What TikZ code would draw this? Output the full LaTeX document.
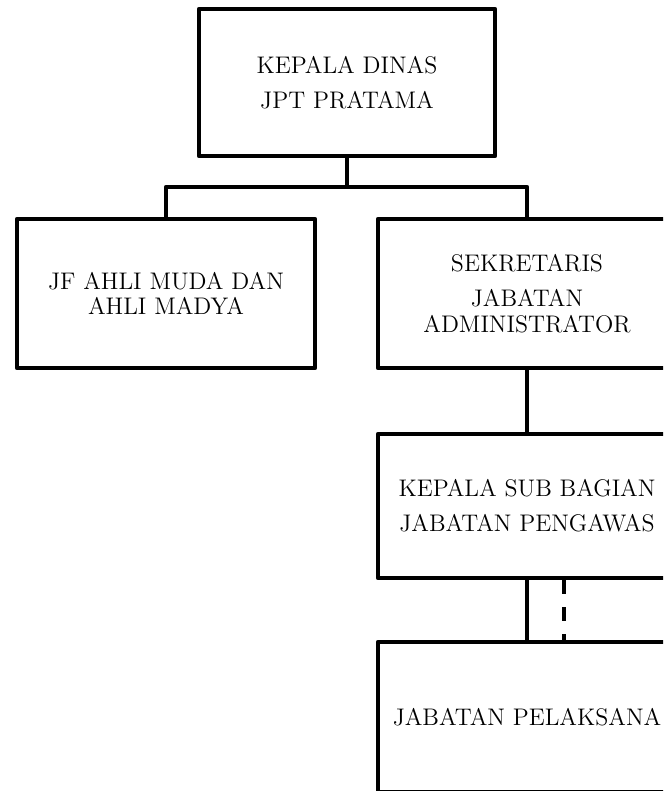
\documentclass[tikz,border=0pt]{standalone}
\usepackage{tikz}
\tikzset{
  kotak/.style={draw, line width=2.2pt, line join=round, align=center,
    minimum width=149pt, minimum height=74.5pt, inner sep=0pt,
    font=\fontsize{12}{12.7}\selectfont},
  garis/.style={line width=2.2pt, line join=round},
  garisputus/.style={line width=2pt, dash pattern=on 7pt off 6.5pt}
}
\begin{document}
\begin{tikzpicture}[x=0.5pt, y=-0.5pt]
  \useasboundingbox (0,0) rectangle (663,791);
  \clip (0,0) rectangle (663,791);
  \node[kotak, minimum width=148pt, minimum height=73.5pt] (kadis) at (347,82.5) {KEPALA DINAS\\[4.6pt]JPT PRATAMA};
  \node[kotak] (jf) at (166,293.5) {JF AHLI MUDA DAN\\AHLI MADYA};
  \node[kotak] (sekre) at (527,293.5) {SEKRETARIS\\[4.8pt]JABATAN\\ADMINISTRATOR};
  \node[kotak, minimum height=72pt] (kasubag) at (527,506) {KEPALA SUB BAGIAN\\[4.8pt]JABATAN PENGAWAS};
  \node[kotak, minimum height=75pt] (pelaksana) at (527,717) {JABATAN PELAKSANA};
  % garis komando
  \coordinate (bus) at (347,187);
  \draw[garis] (kadis.south) -- (bus);
  \draw[garis] (jf.north) |- (bus) -| (sekre.north);
  \draw[garis] (sekre.south) -- (kasubag.north);
  \draw[garis] (kasubag.south) -- (pelaksana.north);
  % garis koordinasi
  \draw[garisputus] ([xshift=18.5pt]kasubag.south) -- ([xshift=18.5pt]pelaksana.north);
\end{tikzpicture}
\end{document}
